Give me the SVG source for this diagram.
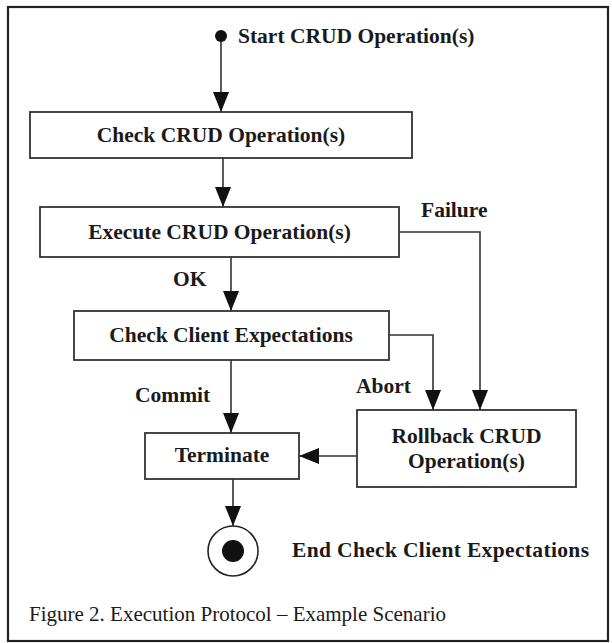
<svg xmlns="http://www.w3.org/2000/svg" width="612" height="643" viewBox="0 0 612 643">
<style>
.box{fill:#fff;stroke:#333;stroke-width:1.8}
.lbl{font-family:"Liberation Serif","Times New Roman",serif;font-weight:bold;font-size:21.5px;fill:#1a1a1a}
.mid{text-anchor:middle}
.conn{fill:none;stroke:#333;stroke-width:1.6}
.cap{font-family:"Liberation Serif","Times New Roman",serif;font-size:21px;fill:#1a1a1a}
</style>
<defs>
<marker id="arr" markerUnits="userSpaceOnUse" markerWidth="20" markerHeight="16" refX="20" refY="8" orient="auto" viewBox="0 0 20 16">
<path d="M0,0 L20,8 L0,16 z" fill="#111"/>
</marker>
</defs>
<rect x="0" y="0" width="612" height="643" fill="#fff"/>
<rect x="8" y="7" width="600" height="634" fill="#fff" stroke="#222" stroke-width="2.2"/>

<g id="connectors">
<path class="conn" d="M221,36 V112" marker-end="url(#arr)"/>
<path class="conn" d="M223,158 V207" marker-end="url(#arr)"/>
<path class="conn" d="M231,257 V311" marker-end="url(#arr)"/>
<path class="conn" d="M399,232 H480 V410" marker-end="url(#arr)"/>
<path class="conn" d="M389,335 H433 V410" marker-end="url(#arr)"/>
<path class="conn" d="M231,360 V433" marker-end="url(#arr)"/>
<path class="conn" d="M357,456 H299" marker-end="url(#arr)"/>
<path class="conn" d="M233,479 V526" marker-end="url(#arr)"/>
<text class="lbl" x="421" y="217">Failure</text>
<text class="lbl" x="173" y="286">OK</text>
<text class="lbl" x="135" y="402">Commit</text>
<text class="lbl" x="356" y="393">Abort</text>
</g>

<g id="start">
<circle cx="221" cy="36" r="6" fill="#111"/>
<text class="lbl" x="238" y="43">Start CRUD Operation(s)</text>
</g>

<g id="check-crud">
<rect class="box" x="30" y="112" width="382" height="46"/>
<text class="lbl mid" x="221" y="142">Check CRUD Operation(s)</text>
</g>

<g id="execute-crud">
<rect class="box" x="40" y="207" width="359" height="50"/>
<text class="lbl mid" x="219.5" y="239">Execute CRUD Operation(s)</text>
</g>

<g id="check-client">
<rect class="box" x="74" y="311" width="315" height="49"/>
<text class="lbl mid" x="231" y="342">Check Client Expectations</text>
</g>

<g id="terminate">
<rect class="box" x="145" y="433" width="154" height="46"/>
<text class="lbl mid" x="222" y="462">Terminate</text>
</g>

<g id="rollback">
<rect class="box" x="357" y="410" width="219" height="77"/>
<text class="lbl mid" x="466.5" y="443">Rollback CRUD</text>
<text class="lbl mid" x="466.5" y="468">Operation(s)</text>
</g>

<g id="end">
<circle cx="233" cy="551" r="25" fill="#fff" stroke="#222" stroke-width="1.6"/>
<circle cx="233" cy="551" r="11" fill="#111"/>
<text class="lbl" x="292" y="557" textLength="297" lengthAdjust="spacing">End Check Client Expectations</text>
</g>

<text class="cap" x="29" y="621">Figure 2. Execution Protocol – Example Scenario</text>
</svg>
